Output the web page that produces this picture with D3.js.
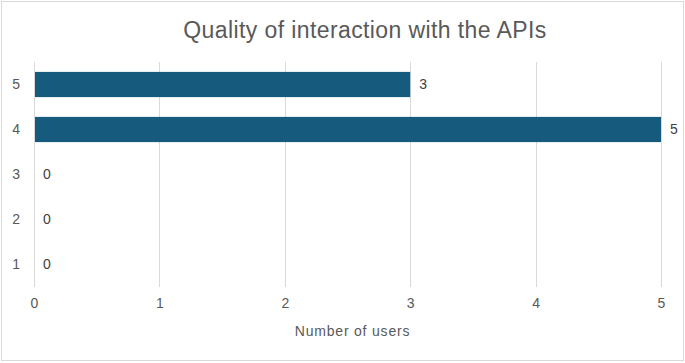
<!DOCTYPE html>
<html>
<head>
<meta charset="utf-8">
<script src="https://cdn.jsdelivr.net/npm/d3@7"></script>
<style>
  body { margin: 0; background: #fff; }
  text { font-family: "Liberation Sans", Arial, sans-serif; fill: #595959; }
</style>
</head>
<body>
<svg id="chart"></svg>
<script>
// chart data
var ratings = ["5", "4", "3", "2", "1"];
var users = [3, 5, 0, 0, 0];
var xTicks = [0, 1, 2, 3, 4, 5];

var W = 685, H = 363;
var margin = {top: 62, right: 24, bottom: 76, left: 34};
var width = W - margin.left - margin.right,
    height = H - margin.top - margin.bottom;

var svg = d3.select("#chart")
  .attr("width", W)
  .attr("height", H);

// outer frame
svg.append("rect")
  .attr("x", 1.5).attr("y", 1.5)
  .attr("width", W - 3).attr("height", H - 4)
  .attr("fill", "#fff")
  .attr("stroke", "#d9d9d9");

svg.append("text")
  .attr("x", 365).attr("y", 38)
  .attr("text-anchor", "middle")
  .style("font-size", "23px")
  .style("letter-spacing", "0.4px")
  .text("Quality of interaction with the APIs");

var g = svg.append("g").attr("transform", "translate(" + margin.left + "," + margin.top + ")");

var x = d3.scaleLinear().domain([0, 5]).range([0, width]);
var y = d3.scaleBand().domain(ratings).range([0, height]).paddingInner(0.44).paddingOuter(0.22);

// gridlines
g.selectAll(".grid")
  .data(xTicks)
  .enter().append("line")
    .attr("class", "grid")
    .attr("x1", function(d) { return Math.round(x(d)) + 0.5; })
    .attr("x2", function(d) { return Math.round(x(d)) + 0.5; })
    .attr("y1", 0).attr("y2", height)
    .attr("stroke", "#d9d9d9");

var data = ratings.map(function(r, i) { return {rating: r, value: users[i]}; });

g.selectAll(".bar")
  .data(data)
  .enter().append("rect")
    .attr("class", "bar")
    .attr("x", x(0) + 1)
    .attr("y", function(d) { return y(d.rating); })
    .attr("width", function(d) { return Math.max(0, x(d.value) - 1); })
    .attr("height", y.bandwidth())
    .attr("fill", "#165a7e");

g.selectAll(".val")
  .data(data)
  .enter().append("text")
    .attr("class", "val")
    .attr("x", function(d) { return x(d.value) + 9; })
    .attr("y", function(d) { return y(d.rating) + y.bandwidth() / 2; })
    .attr("dy", "0.35em")
    .style("font-size", "14px")
    .style("fill", "#404040")
    .text(function(d) { return d.value; });

// y axis labels
var yAxis = g.append("g")
  .call(d3.axisLeft(y).tickSize(0).tickPadding(14));
yAxis.select(".domain").remove();
yAxis.selectAll("text").style("font-size", "14px").attr("fill", null);

// x axis labels
var xAxis = g.append("g")
  .attr("transform", "translate(0," + height + ")")
  .call(d3.axisBottom(x).tickValues(xTicks).tickFormat(d3.format("d")).tickSize(0).tickPadding(11));
xAxis.select(".domain").remove();
xAxis.selectAll("text").style("font-size", "14px").attr("fill", null);

svg.append("text")
  .attr("x", margin.left + width / 2 + 5).attr("y", 336)
  .attr("text-anchor", "middle")
  .style("font-size", "14px")
  .style("letter-spacing", "0.8px")
  .text("Number of users");
</script>
</body>
</html>
